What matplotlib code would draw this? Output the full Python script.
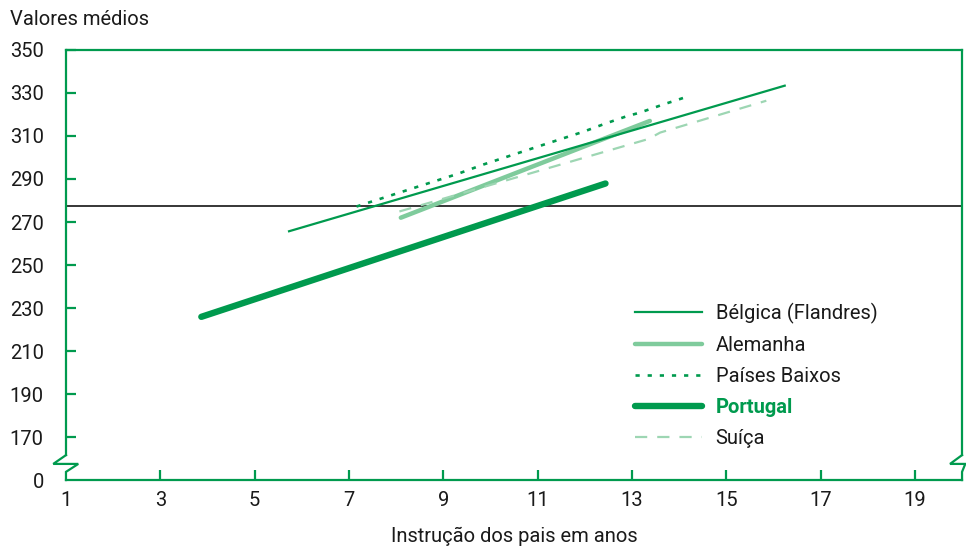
import matplotlib
matplotlib.use("Agg")
import matplotlib.pyplot as plt
from matplotlib import font_manager

# ---------------- data ----------------
belgica_x = [5.73, 16.24]
belgica_y = [265.7, 333.4]

alemanha_x = [8.10, 13.38]
alemanha_y = [272.0, 317.0]

paises_baixos_x = [7.16, 7.44, 8.40, 9.32, 9.86, 10.98, 11.96, 12.44, 12.89, 13.16, 13.67, 14.16]
paises_baixos_y = [277.2, 279.2, 286.0, 292.5, 296.8, 304.9, 311.9, 315.8, 319.2, 320.8, 324.7, 328.2]

portugal_x = [3.87, 12.44]
portugal_y = [225.9, 287.9]

suica_x = [8.07, 13.35, 13.60, 15.85]
suica_y = [274.9, 308.6, 311.6, 326.4]

media_oecd = 277.5

x_ticks = [1, 3, 5, 7, 9, 11, 13, 15, 17, 19]
y_ticks = [150, 170, 190, 210, 230, 250, 270, 290, 310, 330, 350]
y_tick_labels = ["0", "170", "190", "210", "230", "250", "270", "290", "310", "330", "350"]

labels = ["Bélgica (Flandres)", "Alemanha", "Países Baixos", "Portugal", "Suíça"]

# ---------------- style ----------------
avail = {f.name for f in font_manager.fontManager.ttflist}
fam = "Liberation Sans Narrow" if "Liberation Sans Narrow" in avail else "Roboto"
plt.rcParams["font.family"] = [fam, "DejaVu Sans"]

DARK = "#009a4e"
LIGHT = "#7fcb9c"
LIGHTER = "#9dd6b3"
FS = 14.5

fig = plt.figure(figsize=(9.66, 5.48), dpi=100)
ax = fig.add_axes([0.0683, 0.124, 0.9276, 0.7848])

ax.set_xlim(1, 20)
ax.set_ylim(150, 350)

ax.axhline(media_oecd, color="black", lw=1.1, zorder=1)

l1, = ax.plot(belgica_x, belgica_y, color=DARK, lw=1.6, zorder=3)
l2, = ax.plot(alemanha_x, alemanha_y, color=LIGHT, lw=3.2, solid_capstyle="round", zorder=2)
l3, = ax.plot(paises_baixos_x, paises_baixos_y, color=DARK, lw=1.9, linestyle=(0, (1.6, 3.0)), zorder=3)
l4, = ax.plot(portugal_x, portugal_y, color=DARK, lw=4.6, solid_capstyle="round", zorder=4)
l5, = ax.plot(suica_x, suica_y, color=LIGHTER, lw=1.6, linestyle=(0, (5.5, 4.5)), zorder=2)

# spines
for s in ["top", "bottom", "left", "right"]:
    ax.spines[s].set_color(DARK)
    ax.spines[s].set_linewidth(1.6)
ax.spines["left"].set_bounds(161.6, 350)
ax.spines["right"].set_bounds(161.6, 350)

# axis break marks
bk = dict(color=DARK, lw=1.6, transform=ax.get_yaxis_transform(), clip_on=False,
          solid_joinstyle="miter")
ax.plot([0, -0.0142, 0.0137, 0, 0], [161.6, 157.5, 157.5, 153.8, 150], **bk)
ax.plot([1.0, 0.9866, 1.0036, 1.0, 1.0], [161.6, 157.5, 157.5, 153.8, 150], **bk)

ax.set_xticks(x_ticks)
ax.set_xticklabels([str(t) for t in x_ticks], fontsize=FS)
ax.set_yticks(y_ticks)
ax.set_yticklabels(y_tick_labels, fontsize=FS)
ax.tick_params(axis="both", direction="in", length=7, width=1.6, color=DARK, labelcolor="#1a1a1a")
ax.tick_params(axis="x", pad=8)
ax.tick_params(axis="y", pad=16)
ax.yaxis.get_major_ticks()[0].tick1line.set_visible(False)
ax.xaxis.get_major_ticks()[0].tick1line.set_visible(False)

ax.set_xlabel("Instrução dos pais em anos", fontsize=FS, color="#1a1a1a", labelpad=12)
fig.text(0.0104, 0.965, "Valores médios", fontsize=FS, color="#1a1a1a", va="center", ha="left")

leg = ax.legend([l1, l2, l3, l4, l5], labels, loc="upper left",
                bbox_to_anchor=(0.615, 0.455), frameon=False, fontsize=FS,
                handlelength=3.3, handletextpad=0.7, labelspacing=0.6)
for t in leg.get_texts():
    t.set_color("#1a1a1a")
pt = leg.get_texts()[3]
pt.set_color(DARK)
pt.set_fontweight("bold")

fig.savefig("out.png", dpi=100)
